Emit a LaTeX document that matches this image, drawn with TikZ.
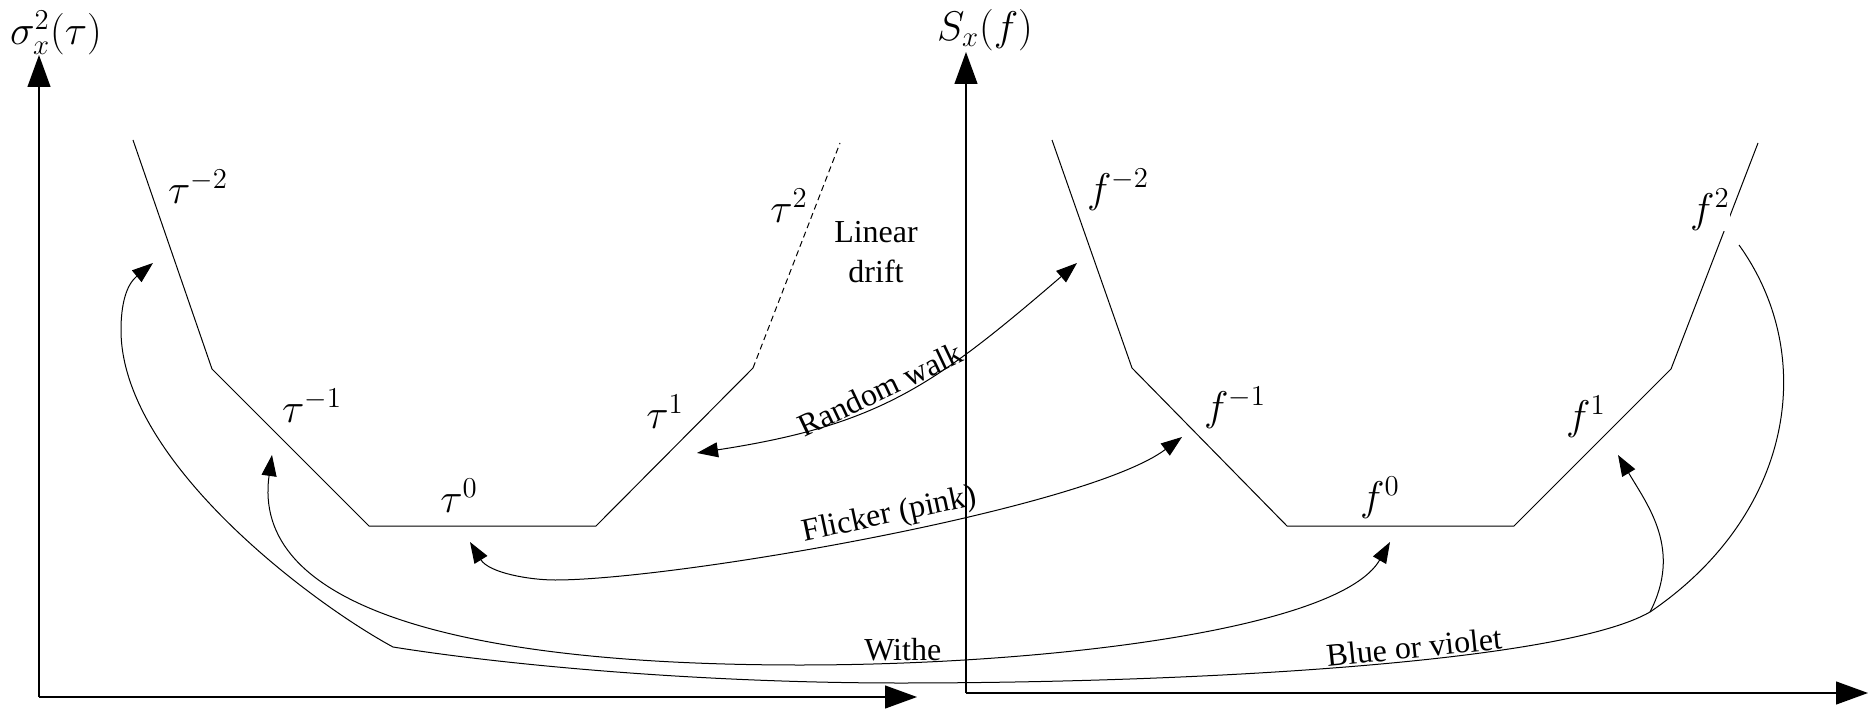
\documentclass[tikz,border=0pt]{standalone}
\usepackage[no-math]{fontspec}
\setmainfont{Liberation Serif}
\usetikzlibrary{arrows.meta}
\begin{document}
\begin{tikzpicture}[x=0.5pt,y=-0.5pt,
  axisline/.style={line width=0.6pt,-{Triangle[length=16pt,width=11.5pt]}},
  plotline/.style={line width=0.5pt},
  connector/.style={line width=0.5pt,>={Triangle[length=10.5pt,width=7.5pt]}},
  mathlab/.style={inner sep=0pt,font=\fontsize{20.74}{25}\selectfont},
  textlab/.style={font=\fontsize{16}{20}\selectfont},
]
\useasboundingbox (0,0) rectangle (1868,711);

% axes
\coordinate (O1) at (39,697);
\coordinate (Y1) at (39,55);
\coordinate (X1) at (917,697);
\coordinate (O2) at (966,693);
\coordinate (Y2) at (966,52);
\coordinate (X2) at (1868,693);
\draw[axisline] (O1) -- (Y1);
\draw[axisline] (O1) -- (X1);
\draw[axisline] (O2) -- (Y2);
\draw[axisline] (O2) -- (X2);
\node[mathlab] (ysig) at (56,33) {$\sigma_x^2(\tau)$};
\node[mathlab] (ysx) at (985,30) {$S_x(f)$};

% tau curve
\coordinate (ta) at (133,140);
\coordinate (tb) at (212,369);
\coordinate (tc) at (369,526);
\coordinate (td) at (596,526);
\coordinate (te) at (753,368);
\coordinate (tf) at (840,143);
\draw[plotline] (ta) -- (tb) -- (tc) -- (td) -- (te);
\draw[plotline,dash pattern=on 3pt off 2pt] (te) -- (tf);

% f curve
\coordinate (fa) at (1052,140);
\coordinate (fb) at (1132,368);
\coordinate (fc) at (1287,526);
\coordinate (fd) at (1514,526);
\coordinate (fe) at (1671,369);
\coordinate (ff) at (1758,143);
\draw[plotline] (fa) -- (fb) -- (fc) -- (fd) -- (fe) -- (ff);

% labels
\node[mathlab] (ltm2) at (198,187) {$\tau^{-2}$};
\node[mathlab] (ltm1) at (312,406) {$\tau^{-1}$};
\node[mathlab] (lt0) at (459,496) {$\tau^{0}$};
\node[mathlab] (lt1) at (665,412) {$\tau^{1}$};
\node[mathlab] (lt2) at (789,206) {$\tau^{2}$};
\node[textlab,align=center] (drift) at (876,252) {Linear\\drift};
\node[mathlab] (lfm2) at (1118,190) {$f^{-2}$};
\node[mathlab] (lfm1) at (1235,408) {$f^{-1}$};
\node[mathlab] (lf0) at (1380,498) {$f^{0}$};
\node[mathlab] (lf1) at (1586,417) {$f^{1}$};
\node[mathlab,fill=white] (lf2) at (1710,210) {$f^{2}$};

% Random walk
\coordinate (rw1) at (697,453);
\coordinate (rw2) at (1077,263);
\draw[connector,<->] (rw1) .. controls (880,425) and (935,385) ..
  node[textlab,sloped,above,pos=0.45,inner sep=1pt] (rwlab) {Random walk} (rw2);

% Flicker
\coordinate (fl1) at (470,542);
\coordinate (flm) at (555,580);
\coordinate (fl2) at (1182,437);
\draw[connector,<->] (fl1) .. controls (489,573) and (530,580) .. (flm)
  .. controls (675,580) and (1086,509) ..
  node[textlab,sloped,above,pos=0.52,inner sep=1pt] (fllab) {Flicker (pink)} (fl2);

% White
\coordinate (wh1) at (272,455);
\coordinate (whm) at (800,665);
\coordinate (wh2) at (1390,542);
\draw[connector,<->] (wh1) .. controls (251,604) and (450,665) .. (whm)
  .. controls (1050,665) and (1340,629) ..
  node[textlab,above,pos=0.135,inner sep=1pt] (whlab) {Withe} (wh2);

% Blue or violet
\coordinate (bv1) at (153,263);
\coordinate (bvq) at (121,330);
\coordinate (bvk) at (393,647);
\coordinate (bvn) at (900,683);
\coordinate (bvs) at (1650,612);
\coordinate (bve) at (1739,245);
\coordinate (bvf) at (1618,455);
\draw[connector,<-] (bv1) .. controls (126,285) and (121,305) .. (bvq)
  .. controls (121,460) and (310,602) .. (bvk)
  .. controls (505,665) and (700,683) .. (bvn)
  .. controls (1200,683) and (1563,662) ..
  node[textlab,sloped,above,pos=0.575,inner sep=1pt] (bvlab) {Blue or violet} (bvs)
  .. controls (1791,516.5) and (1820,358) .. (bve);
\draw[connector,->] (bvs) .. controls (1682,550) and (1648.6,506.6) .. (bvf);
\end{tikzpicture}
\end{document}
